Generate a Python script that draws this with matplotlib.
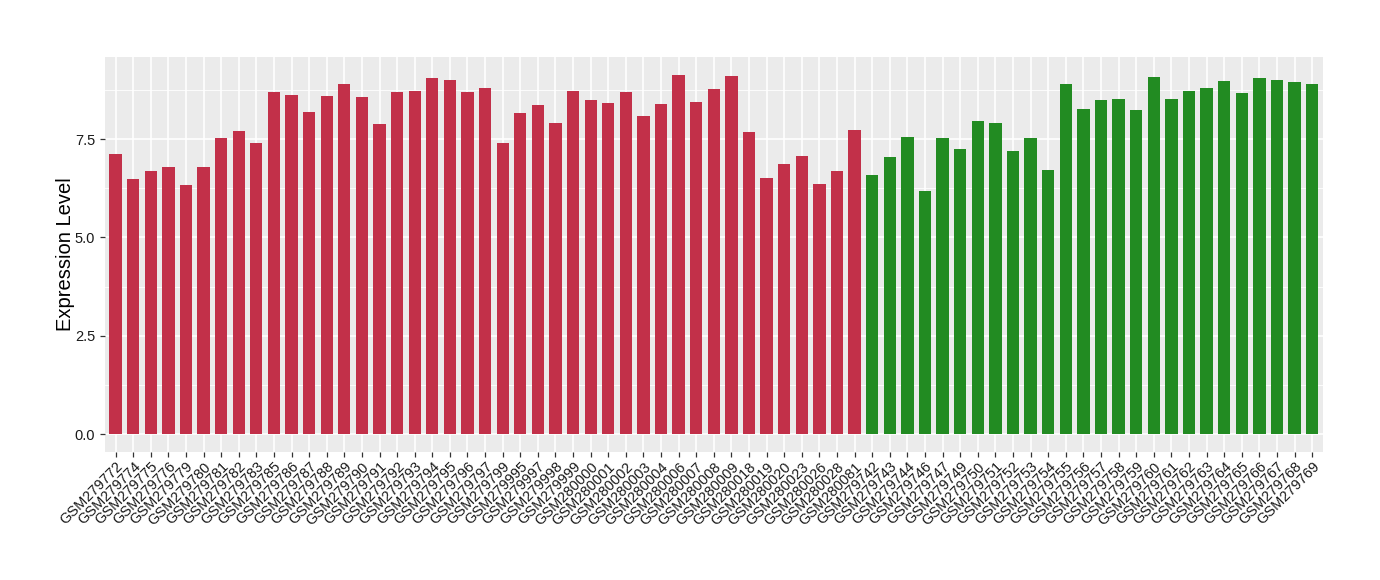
import matplotlib
matplotlib.use("Agg")
import matplotlib.pyplot as plt
import numpy as np

plt.rcParams['font.family'] = ['Liberation Sans', 'DejaVu Sans']

red_samples = ["GSM279772", "GSM279774", "GSM279775", "GSM279776", "GSM279779", "GSM279780",
               "GSM279781", "GSM279782", "GSM279783", "GSM279785", "GSM279786", "GSM279787",
               "GSM279788", "GSM279789", "GSM279790", "GSM279791", "GSM279792", "GSM279793",
               "GSM279794", "GSM279795", "GSM279796", "GSM279797", "GSM279799", "GSM279995",
               "GSM279997", "GSM279998", "GSM279999", "GSM280000", "GSM280001", "GSM280002",
               "GSM280003", "GSM280004", "GSM280006", "GSM280007", "GSM280008", "GSM280009",
               "GSM280018", "GSM280019", "GSM280020", "GSM280023", "GSM280026", "GSM280028",
               "GSM280081"]
red_values = [7.12, 6.49, 6.69, 6.79, 6.33, 6.79, 7.53, 7.71, 7.41, 8.71, 8.63, 8.20,
              8.60, 8.91, 8.58, 7.89, 8.71, 8.73, 9.06, 9.01, 8.71, 8.81, 7.39, 8.17,
              8.38, 7.92, 8.73, 8.50, 8.43, 8.71, 8.10, 8.40, 9.14, 8.45, 8.78, 9.11,
              7.69, 6.51, 6.87, 7.07, 6.36, 6.69, 7.74]

green_samples = ["GSM279742", "GSM279743", "GSM279744", "GSM279746", "GSM279747", "GSM279749",
                 "GSM279750", "GSM279751", "GSM279752", "GSM279753", "GSM279754", "GSM279755",
                 "GSM279756", "GSM279757", "GSM279758", "GSM279759", "GSM279760", "GSM279761",
                 "GSM279762", "GSM279763", "GSM279764", "GSM279765", "GSM279766", "GSM279767",
                 "GSM279768", "GSM279769"]
green_values = [6.59, 7.05, 7.56, 6.18, 7.53, 7.25, 7.97, 7.92, 7.20, 7.53, 6.72, 8.91,
                8.27, 8.50, 8.53, 8.25, 9.09, 8.53, 8.73, 8.81, 8.99, 8.68, 9.06, 9.01,
                8.96, 8.89]

red_color = "#C23049"
green_color = "#228B22"

labels = red_samples + green_samples
values = red_values + green_values
colors = [red_color] * len(red_samples) + [green_color] * len(green_samples)
x = np.arange(1, len(labels) + 1)

fig = plt.figure(figsize=(13.8, 5.8), dpi=100)
ax = fig.add_axes([105 / 1380, 1 - 452 / 580, (1322.7 - 105) / 1380, (452 - 56.7) / 580])
ax.set_facecolor("#EBEBEB")

ymax = max(values)
ax.set_ylim(-0.05 * ymax, ymax * 1.05)
ax.set_xlim(0.4, len(labels) + 0.6)

ax.set_axisbelow(True)
ax.set_yticks([0, 2.5, 5.0, 7.5])
ax.set_yticklabels(["0.0", "2.5", "5.0", "7.5"])
ax.set_yticks([1.25, 3.75, 6.25, 8.75], minor=True)
ax.set_xticks(x)
ax.set_xticklabels(labels, rotation=45, ha="right", rotation_mode="anchor", fontsize=10.5)
ax.grid(which="major", color="white", linewidth=1.2)
ax.grid(which="minor", axis="y", color="white", linewidth=0.6)

ax.bar(x, values, width=0.7, color=colors, zorder=2)

for s in ax.spines.values():
    s.set_visible(False)
ax.tick_params(axis="both", which="major", length=3.5, color="#333333", labelcolor="#1a1a1a",
               labelsize=10.5, width=0.9)
ax.tick_params(axis="y", which="minor", length=0)
ax.tick_params(axis="x", pad=2)
ax.set_ylabel("Expression Level", fontsize=14.5, labelpad=0)

fig.savefig("out.png", dpi=100)
